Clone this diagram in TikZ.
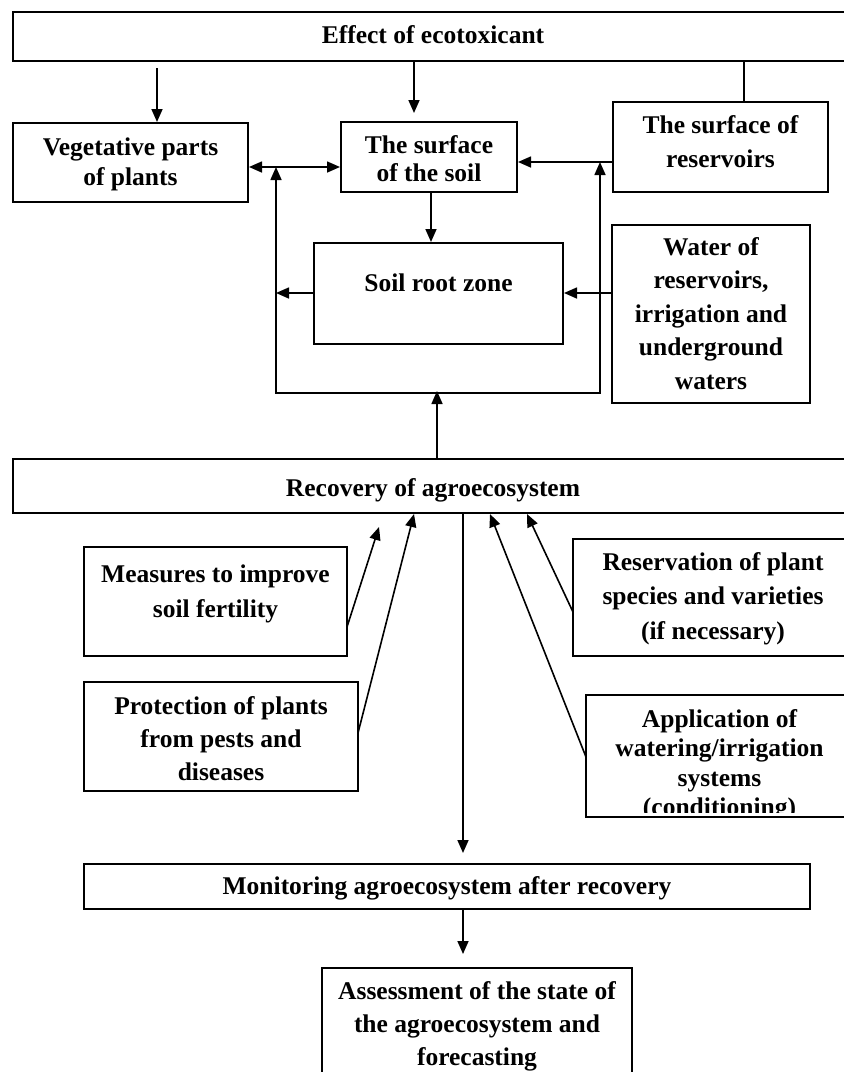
\documentclass[tikz,border=0pt]{standalone}
\usepackage{fontspec}
\setmainfont{Liberation Serif}
\usetikzlibrary{arrows.meta}
\tikzset{
  box/.style={draw=black, line width=2pt, inner sep=0pt, fill=white},
  lbl/.style={font=\fontsize{25.5}{#1}\selectfont\bfseries, align=center, anchor=base, inner sep=0pt},
  conn/.style={line width=1.6pt, -{Triangle[length=13pt,width=11pt]}},
  conn2/.style={line width=1.6pt, {Triangle[length=13pt,width=11pt]}-{Triangle[length=13pt,width=11pt]}},
  plain/.style={line width=1.6pt}
}
\begin{document}
\begin{tikzpicture}[x=1pt,y=-1pt]
\clip (0,0) rectangle (844,1072);
\fill[white] (0,0) rectangle (844,1072);
% boxes
\node[box, minimum width=840pt, minimum height=49pt] (top) at (433,36.5) {};
\node[box, minimum width=235pt, minimum height=79pt] (veg) at (130.5,162.5) {};
\node[box, minimum width=176pt, minimum height=70pt] (soil) at (429,157) {};
\node[box, minimum width=215pt, minimum height=90pt] (res) at (720.5,147) {};
\node[box, minimum width=249pt, minimum height=101pt] (root) at (438.5,293.5) {};
\node[box, minimum width=198pt, minimum height=178pt] (water) at (711,314) {};
\node[box, minimum width=840pt, minimum height=54pt] (rec) at (433,486) {};
\node[box, minimum width=263pt, minimum height=109pt] (meas) at (215.5,601.5) {};
\node[box, minimum width=274pt, minimum height=109pt] (prot) at (221,736.5) {};
\node[box, minimum width=280pt, minimum height=117pt] (resv) at (713,597.5) {};
\node[box, minimum width=267pt, minimum height=122pt] (appl) at (719.5,756) {};
\node[box, minimum width=726pt, minimum height=45pt] (mon) at (447,886.5) {};
\node[box, minimum width=310pt, minimum height=117pt] (assess) at (477,1026.5) {};
% texts (anchor = baseline of the last line)
\node[lbl=34] (t-top) at (433,43) {Effect of ecotoxicant};
\node[lbl=30] (t-veg) at (130.5,185) {Vegetative parts\\of plants};
\node[lbl=28] (t-soil) at (429,181) {The surface\\of the soil};
\node[lbl=34] (t-res) at (720.5,167) {The surface of\\reservoirs};
\node[lbl=34] (t-root) at (438.5,291) {Soil root zone};
\node[lbl=33.5] (t-water) at (711,389) {Water of\\reservoirs,\\irrigation and\\underground\\waters};
\node[lbl=34] (t-rec) at (433,496) {Recovery of agroecosystem};
\node[lbl=35] (t-meas) at (215.5,617) {Measures to improve\\soil fertility};
\node[lbl=33] (t-prot) at (221,780) {Protection of plants\\from pests and\\diseases};
\node[lbl=34.5] (t-resv) at (713,639) {Reservation of plant\\species and varieties\\(if necessary)};
\begin{scope}
\clip (586,695) rectangle (853,812);
\node[lbl=29.5] (t-appl) at (719.5,815.5) {Application of\\watering/irrigation\\systems\\(conditioning)};
\end{scope}
\node[lbl=34] (t-mon) at (447,894) {Monitoring agroecosystem after recovery};
\node[lbl=33] (t-assess) at (477,1065) {Assessment of the state of\\the agroecosystem and\\forecasting};
% free-end coordinates
\coordinate (a1) at (157,68);
\coordinate (a2) at (414,113);
\coordinate (ltip) at (276,167);
\coordinate (lbot) at (276,393);
\coordinate (rbot) at (600,393);
\coordinate (rtip) at (600,162);
\coordinate (lmid) at (276,293);
\coordinate (uptip) at (437,391);
\coordinate (m1) at (347,627);
\coordinate (m2) at (379,527);
\coordinate (p1) at (358,733);
\coordinate (p2) at (414,514);
\coordinate (r1) at (573,612);
\coordinate (r2) at (527,514);
\coordinate (q1) at (586,757);
\coordinate (q2) at (490,514);
\coordinate (dn1) at (463,853);
\coordinate (dn2) at (463,954);
% connectors
\draw[conn] (a1) -- (a1 |- veg.north);
\draw[conn] (a2 |- top.south) -- (a2);
\draw[plain] (744,0 |- top.south) -- (744,0 |- res.north);
\draw[conn2] (veg.east |- ltip) -- (soil.west |- ltip);
\draw[conn] (res.west |- rtip) -- (soil.east |- rtip);
\draw[conn2] (ltip) -- (lbot) -- (rbot) -- (rtip);
\draw[conn] (uptip |- rec.north) -- (uptip);
\draw[conn] (431,0 |- soil.south) -- (431,0 |- root.north);
\draw[conn] (root.west |- lmid) -- (lmid);
\draw[conn] (water.west |- lmid) -- (root.east |- lmid);
\draw[conn] (m1) -- (m2);
\draw[conn] (p1) -- (p2);
\draw[conn] (r1) -- (r2);
\draw[conn] (q1) -- (q2);
\draw[conn] (dn1 |- rec.south) -- (dn1);
\draw[conn] (dn2 |- mon.south) -- (dn2);
\end{tikzpicture}
\end{document}
